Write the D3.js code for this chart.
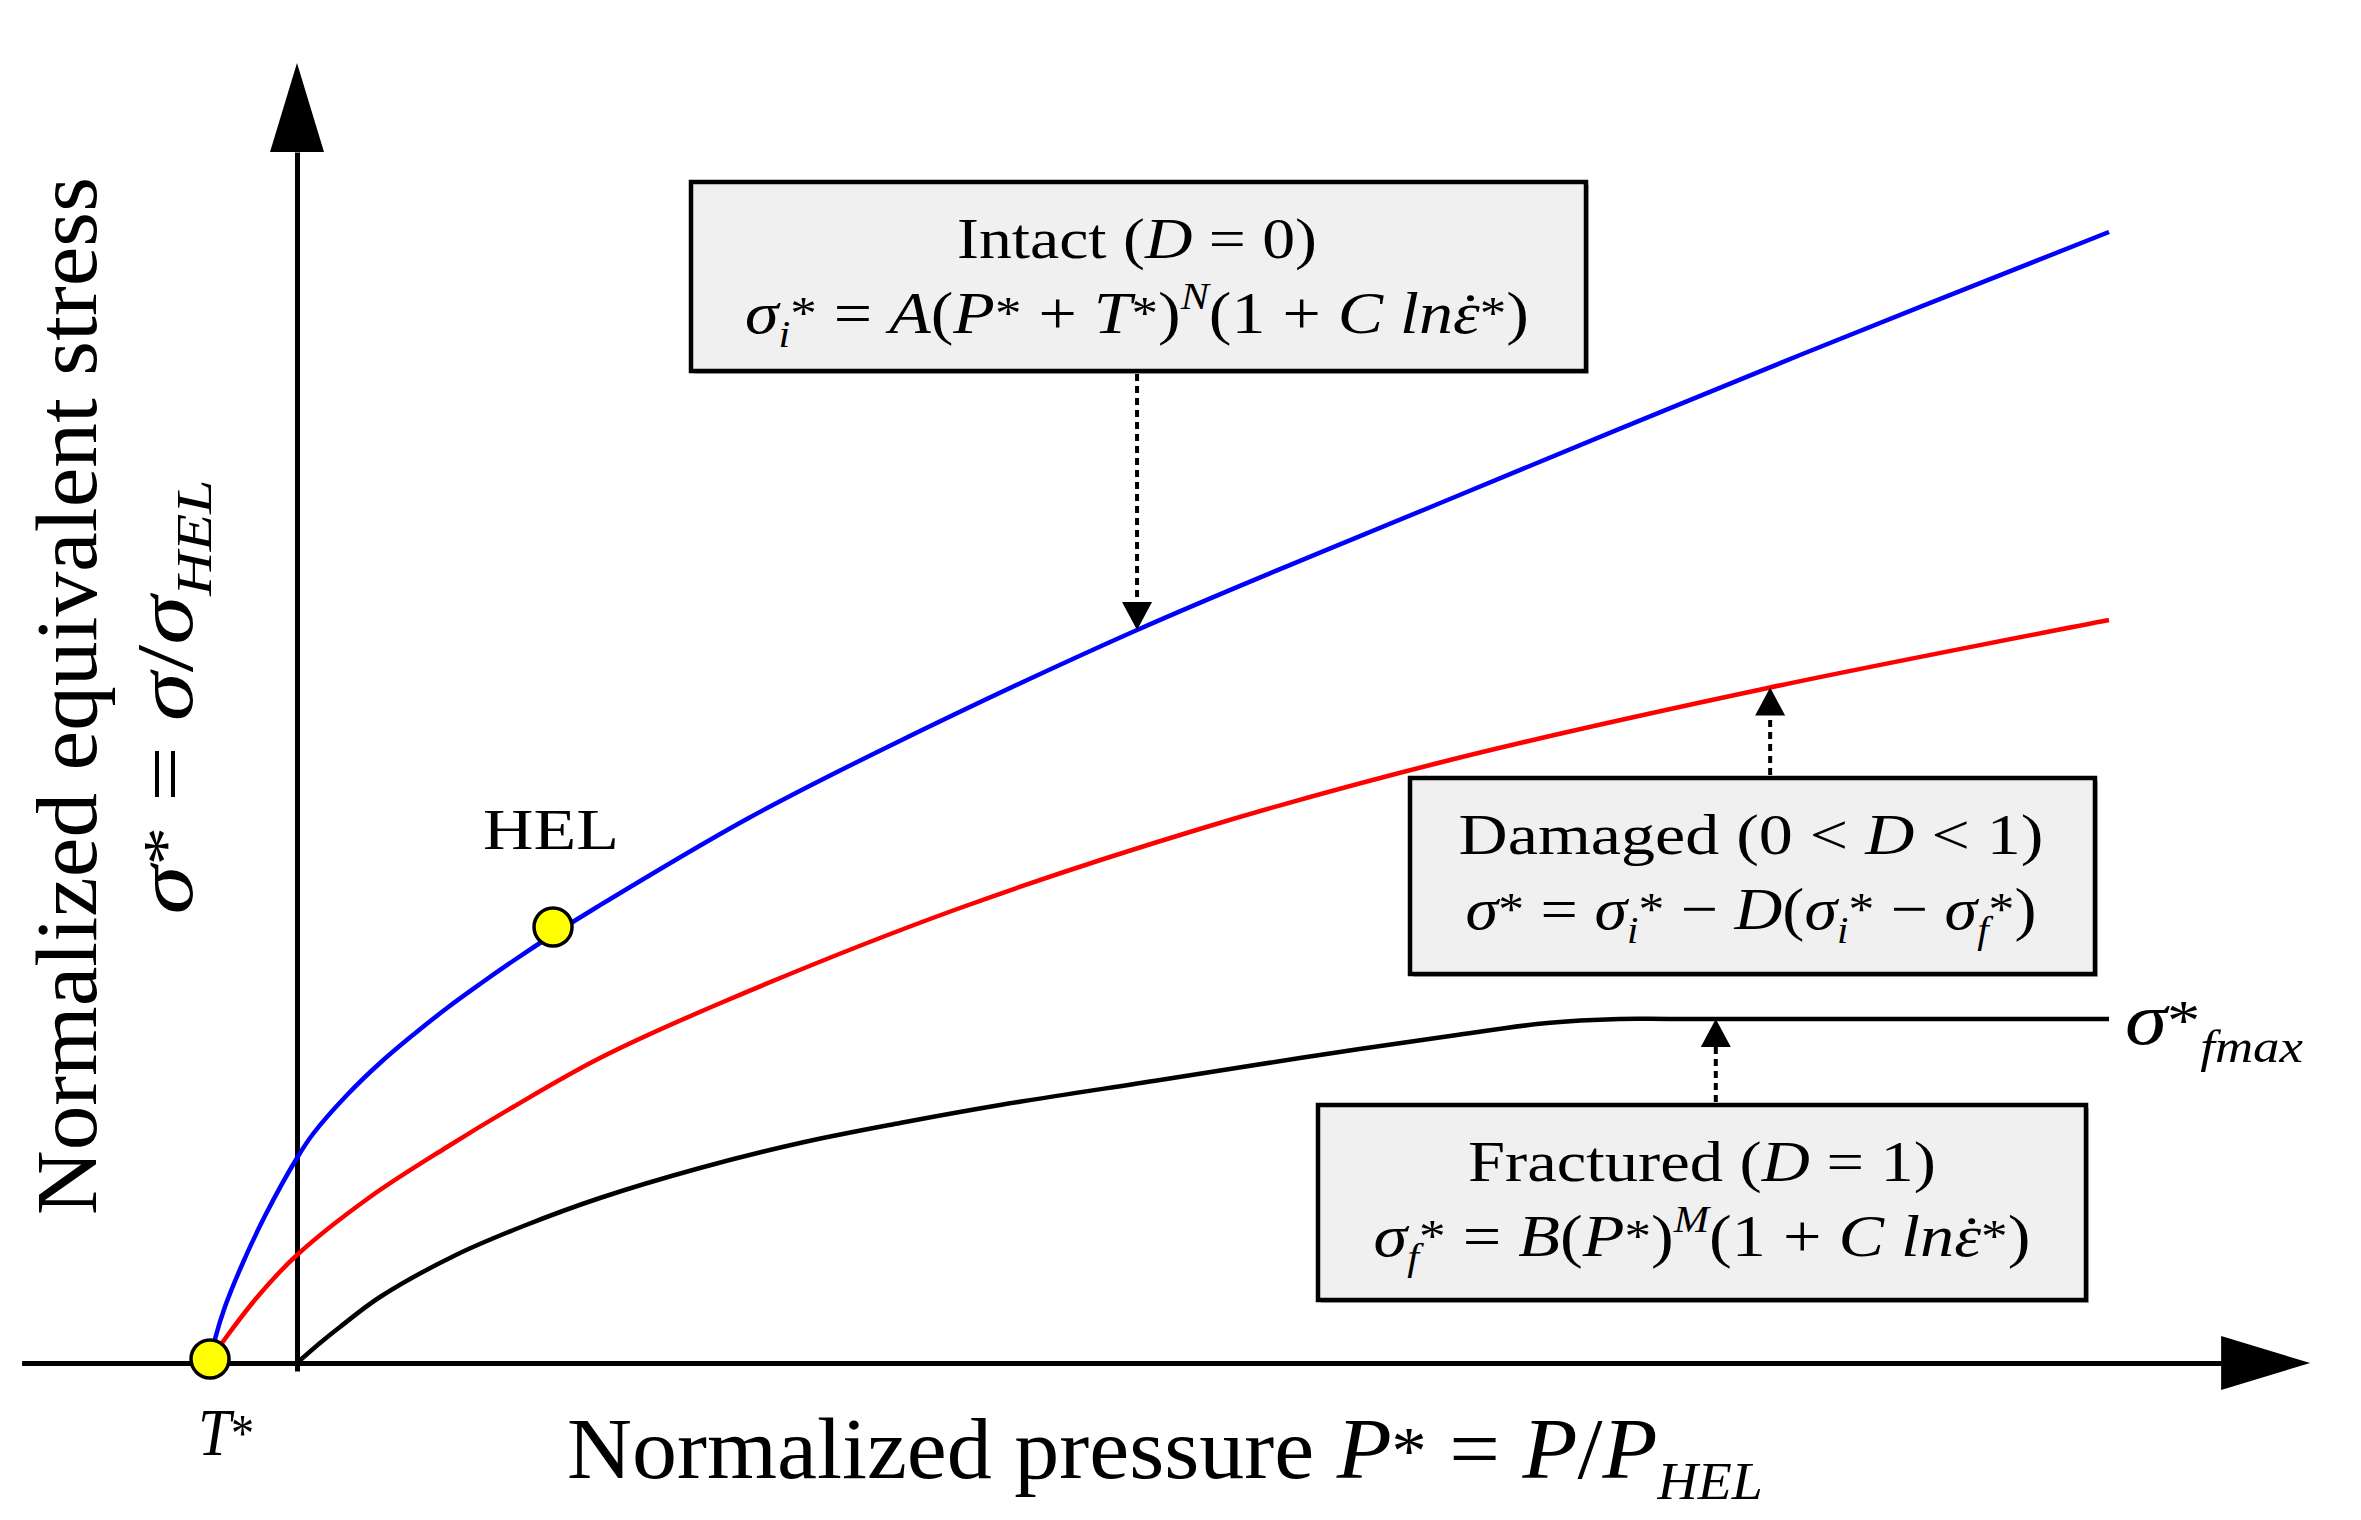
<!DOCTYPE html>
<html><head><meta charset="utf-8">
<script src="https://cdn.jsdelivr.net/npm/d3@7"></script>
<style>html,body{margin:0;padding:0;background:#fff;}svg{display:block;}</style>
</head><body><div id="chart"></div>
<script>
// ---------- data (normalized pressure P*, normalized stress sigma*) ----------
const intactP    = [-0.48, -0.453, -0.40, -0.304, -0.177, 0, 0.088, 0.276, 0.458, 0.640, 0.828, 1.010, 1.192, 1.413, 1.656, 2.483, 3.27, 4.636, 6.363, 8.295, 10];
const intactS    = [0.02, 0.236, 0.55, 0.98, 1.47, 2.05, 2.29, 2.68, 3.00, 3.28, 3.55, 3.79, 4.02, 4.285, 4.56, 5.44, 6.17, 7.33, 8.64, 10.08, 11.31];
const damagedP   = [-0.48, -0.386, -0.2, 0, 0.403, 0.828, 1.192, 1.672, 2.351, 3.636, 5.0, 6.363, 8.13, 10];
const damagedS   = [0.02, 0.27, 0.70, 1.08, 1.66, 2.16, 2.56, 3.05, 3.61, 4.535, 5.35, 6.03, 6.755, 7.43];
const fracturedP = [0, 0.127, 0.237, 0.458, 0.877, 1.25, 1.672, 2.224, 2.776, 3.328, 3.88, 4.763, 5.535, 6.363, 6.9, 7.3, 7.6, 10];
const fracturedS = [0, 0.20, 0.36, 0.66, 1.08, 1.37, 1.65, 1.95, 2.20, 2.40, 2.58, 2.83, 3.05, 3.27, 3.40, 3.44, 3.44, 3.44];
const pointNames = ["T*", "HEL"];
const pointP     = [-0.48, 1.413];
const pointS     = [0.04, 4.36];
const axisPExtent = [-1.52, 11.11];
const axisSExtent = [-0.08, 13];

// ---------- layout ----------
const W = 2361, H = 1520;
const SERIF = "'Liberation Serif','Times New Roman',serif";
const x = d3.scaleLinear().domain([0, 10]).range([297, 2109]);
const y = d3.scaleLinear().domain([0, 13]).range([1363, 63]);

const svg = d3.select('#chart').append('svg').attr('width', W).attr('height', H)
  .attr('viewBox', `0 0 ${W} ${H}`).style('background', '#fff');
svg.append('rect').attr('width', W).attr('height', H).attr('fill', '#fff');

// ---------- axes (arrows) ----------
const arrowLen = 89, arrowHalf = 27;
const xAxisScale = d3.scaleLinear().domain(axisPExtent).range([x(axisPExtent[0]), x(axisPExtent[1]) - arrowLen]);
const xAx = svg.append('g').attr('transform', `translate(0,${y(0)})`)
  .call(d3.axisBottom(xAxisScale).tickValues([]).tickSizeOuter(0));
xAx.select('.domain').attr('stroke', '#000').attr('stroke-width', 5);
const yAxisScale = d3.scaleLinear().domain(axisSExtent).range([y(axisSExtent[0]), y(axisSExtent[1]) + arrowLen]);
const yAx = svg.append('g').attr('transform', `translate(${x(0)},0)`)
  .call(d3.axisLeft(yAxisScale).tickValues([]).tickSizeOuter(0));
yAx.select('.domain').attr('stroke', '#000').attr('stroke-width', 5);
const xt = x(axisPExtent[1]), y0 = y(0);
svg.append('path').attr('d', `M${xt},${y0} L${xt - arrowLen},${y0 - arrowHalf} L${xt - arrowLen},${y0 + arrowHalf} Z`).attr('fill', '#000');
const yt = y(axisSExtent[1]), x0 = x(0);
svg.append('path').attr('d', `M${x0},${yt} L${x0 - arrowHalf},${yt + arrowLen} L${x0 + arrowHalf},${yt + arrowLen} Z`).attr('fill', '#000');

// ---------- curves ----------
const line = d3.line().x(d => x(d[0])).y(d => y(d[1])).curve(d3.curveCatmullRom.alpha(0.5));
const series = [
  {P: fracturedP, S: fracturedS, color: '#000000'},
  {P: damagedP, S: damagedS, color: '#ff0000'},
  {P: intactP, S: intactS, color: '#0000ff'}
];
series.forEach(s => {
  svg.append('path').datum(s.P.map((p, i) => [p, s.S[i]]))
    .attr('d', line).attr('fill', 'none').attr('stroke', s.color)
    .attr('stroke-width', 4.5).attr('stroke-linejoin', 'round');
});
function sAt(P, S, p) {
  for (let i = 1; i < P.length; i++) {
    if (p <= P[i]) { const t = (p - P[i - 1]) / (P[i] - P[i - 1]); return S[i - 1] + t * (S[i] - S[i - 1]); }
  }
  return S[S.length - 1];
}

// ---------- rich text helper ----------
function rich(parent, segs, size, opts) {
  const g = parent.append('g');
  const t = g.append('text').attr('font-family', SERIF).attr('font-size', size)
    .attr('text-anchor', opts.anchor || 'start').attr('fill', '#000');
  let cur = 0, idx = 0;
  const dots = [];
  segs.forEach(s => {
    const ts = t.append('tspan').text(s.t);
    if (s.i) ts.attr('font-style', 'italic');
    let target = 0, fs = size;
    if (s.sup) { target = -size * 0.40; fs = size * 0.62; }
    if (s.sub) { target = size * 0.24; fs = size * 0.62; }
    if (s.star) { target = -size * 0.06; fs = size * 0.78; }
    ts.attr('font-size', fs);
    if (target !== cur) { ts.attr('dy', target - cur); cur = target; }
    if (s.dx) ts.attr('dx', s.dx * size);
    if (s.dotLast) dots.push(idx + s.t.length - 1);
    idx += s.t.length;
  });
  dots.forEach(ci => {
    const a = t.node().getStartPositionOfChar(ci), b = t.node().getEndPositionOfChar(ci);
    g.append('circle').attr('cx', (a.x + b.x) / 2 + size * 0.06).attr('cy', a.y - size * 0.58)
      .attr('r', size * 0.05).attr('fill', '#000');
  });
  let sx = 1;
  if (opts.width) { const w = t.node().getComputedTextLength(); sx = opts.width / w; }
  g.attr('transform', `translate(${opts.x},${opts.y})${opts.rotate ? ` rotate(${opts.rotate})` : ''} scale(${sx},1)`);
  return g;
}
const I = t => ({t, i: true});
const N = t => ({t});
const SUP = t => ({t, sup: true, i: true});
const SUB = t => ({t, sub: true, i: true});
const STAR = {t: '*', star: true};
const STK = {t: '*', star: true};
const EPS = {t: 'lnε', i: true, dotLast: true};

// ---------- boxes ----------
const boxes = [
  {x0: 691, x1: 1586, y0: 182, y1: 371, cx: 1137, w1: 360, w2: 784,
   l1: [N('Intact ('), I('D'), N(' = 0)')],
   l2: [I('σ'), SUB('i'), STK, N(' = '), I('A'), N('('), I('P'), STAR, N(' + '), I('T'), STAR, N(')'), SUP('N'), N('(1 + '), I('C'), N(' '), EPS, STAR, N(')')]},
  {x0: 1410, x1: 2095, y0: 778, y1: 974, cx: 1751, w1: 585, w2: 571,
   l1: [N('Damaged (0 < '), I('D'), N(' < 1)')],
   l2: [I('σ'), STAR, N(' = '), I('σ'), SUB('i'), STK, N(' − '), I('D'), N('('), I('σ'), SUB('i'), STK, N(' − '), I('σ'), SUB('f'), STK, N(')')]},
  {x0: 1318, x1: 2086, y0: 1105, y1: 1300, cx: 1702, w1: 468, w2: 657,
   l1: [N('Fractured ('), I('D'), N(' = 1)')],
   l2: [I('σ'), SUB('f'), STK, N(' = '), I('B'), N('('), I('P'), STAR, N(')'), SUP('M'), N('(1 + '), I('C'), N(' '), EPS, STAR, N(')')]}
];
boxes.forEach(b => {
  svg.append('rect').attr('x', b.x0 + 3).attr('y', b.y0 + 3).attr('width', b.x1 - b.x0).attr('height', b.y1 - b.y0)
    .attr('fill', '#bdbdbd');
  svg.append('rect').attr('x', b.x0).attr('y', b.y0).attr('width', b.x1 - b.x0).attr('height', b.y1 - b.y0)
    .attr('fill', '#f0f0f0').attr('stroke', '#000').attr('stroke-width', 4.5);
  rich(svg, b.l1, 58, {x: b.cx, y: b.y0 + 76, anchor: 'middle', width: b.w1});
  rich(svg, b.l2, 60, {x: b.cx, y: b.y0 + 151, anchor: 'middle', width: b.w2});
});

// ---------- dotted pointer arrows ----------
const pointers = [
  {p: 4.636, from: 371, P: intactP, S: intactS},
  {p: 8.13, from: 778, P: damagedP, S: damagedS},
  {p: 7.83, from: 1105, P: fracturedP, S: fracturedS}
];
pointers.forEach(a => {
  const px = x(a.p), tip = y(sAt(a.P, a.S, a.p));
  const dir = tip > a.from ? 1 : -1;
  const head = 28, hw = 15;
  svg.append('line').attr('x1', px).attr('x2', px).attr('y1', a.from + dir * 3).attr('y2', tip - dir * head)
    .attr('stroke', '#000').attr('stroke-width', 4).attr('stroke-dasharray', '7,5');
  svg.append('path').attr('d', `M${px},${tip} L${px - hw},${tip - dir * head} L${px + hw},${tip - dir * head} Z`).attr('fill', '#000');
});

// ---------- points ----------
svg.selectAll('circle.pt').data(pointP).enter().append('circle').attr('class', 'pt')
  .attr('cx', d => x(d)).attr('cy', (d, i) => y(pointS[i])).attr('r', 19)
  .attr('fill', '#ffff00').attr('stroke', '#000').attr('stroke-width', 3.5);

// ---------- labels ----------
svg.append('text').attr('x', 483).attr('y', 849).attr('font-family', SERIF).attr('font-size', 56)
  .attr('textLength', 136).attr('lengthAdjust', 'spacingAndGlyphs').text(pointNames[1]);
rich(svg, [I('T'), STAR], 68, {x: 198, y: 1455, width: 56});
rich(svg, [I('σ'), {t: '*', star: true}, {t: 'fmax', sub: true, i: true}], 74, {x: 2125, y: 1044, width: 178});

// axis titles
rich(svg, [N('Normalized pressure '), I('P'), STAR, N(' = '), I('P'), N('/'), I('P'), SUB('HEL')], 86,
  {x: 567, y: 1478, width: 1196});
rich(svg, [N('Normalized equivalent stress')], 86, {x: 96, y: 696, anchor: 'middle', rotate: -90, width: 1038});
rich(svg, [I('σ'), STAR, N(' = '), I('σ'), N('/'), I('σ'), SUB('HEL')], 80, {x: 192, y: 697, anchor: 'middle', rotate: -90, width: 435});
</script></body></html>
